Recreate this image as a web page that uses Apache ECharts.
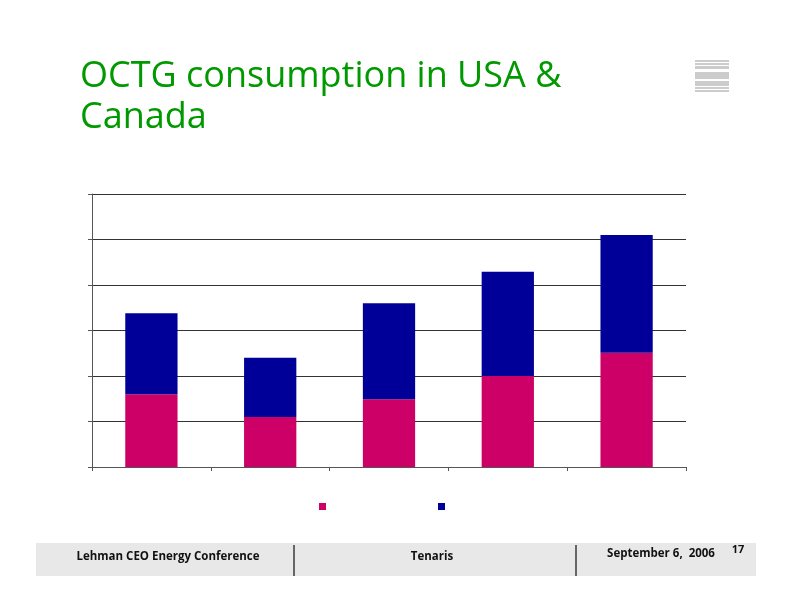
<!DOCTYPE html>
<html><head><meta charset="utf-8">
<script src="https://cdn.jsdelivr.net/npm/echarts@6/dist/echarts.min.js"></script>
<style>html,body{margin:0;padding:0;background:#fff}#c{width:792px;height:612px}</style>
</head><body><div id="c"></div>
<script>
const categories = ['1', '2', '3', '4', '5'];
const seriesNames = ['USA', 'Canada'];
const seriesA = [1.60, 1.10, 1.49, 2.00, 2.51];
const seriesB = [1.78, 1.30, 2.11, 2.29, 2.59];
const yTicks = [0, 1, 2, 3, 4, 5, 6];

const chart = echarts.init(document.getElementById('c'), null, {renderer: 'canvas'});
const FONT = '"Open Sans", "DejaVu Sans", sans-serif';
const stripes = [[60,2],[63,2],[66,3],[72,7],[81,5],[87,2],[90,2]];
chart.setOption({
  animation: false,
  backgroundColor: '#fff',
  title: {
    text: 'OCTG consumption in USA &\nCanada',
    left: 80, top: 56, padding: 0,
    textStyle: {color: '#009900', fontSize: 36, fontWeight: 'normal', fontFamily: FONT, lineHeight: 41}
  },
  legend: {
    left: 314, top: 498,
    itemWidth: 7, itemHeight: 7, itemGap: 112,
    icon: 'rect',
    formatter: () => '',
    textStyle: {fontSize: 1},
    data: seriesNames
  },
  grid: {left: 92, right: 106, top: 194, bottom: 145, containLabel: false},
  xAxis: {
    type: 'category', data: categories,
    axisLine: {lineStyle: {color: '#555', width: 1}},
    axisTick: {show: true, length: 4, lineStyle: {color: '#555'}},
    axisLabel: {show: false}
  },
  yAxis: {
    type: 'value', min: yTicks[0], max: yTicks[yTicks.length - 1], interval: 1,
    axisLine: {show: true, lineStyle: {color: '#555'}},
    axisTick: {show: true, length: 4, inside: false, lineStyle: {color: '#555'}},
    axisLabel: {show: false},
    splitLine: {lineStyle: {color: '#333', width: 1}}
  },
  series: [
    {name: seriesNames[0], type: 'bar', stack: 's', data: seriesA, barWidth: '44%', itemStyle: {color: '#CC0066'}},
    {name: seriesNames[1], type: 'bar', stack: 's', data: seriesB, barWidth: '44%', itemStyle: {color: '#000099'}}
  ],
  graphic: [
    {type: 'rect', shape: {x: 36, y: 543, width: 720, height: 33}, style: {fill: '#e8e8e8'}, z: -1},
    {type: 'rect', shape: {x: 293, y: 545, width: 2, height: 31}, style: {fill: '#666'}},
    {type: 'rect', shape: {x: 575, y: 545, width: 2, height: 31}, style: {fill: '#666'}},
    {type: 'text', x: 168, y: 557, style: {text: 'Lehman CEO Energy Conference', fill: '#111', font: 'bold 11.5px ' + FONT, textAlign: 'center', textVerticalAlign: 'middle'}},
    {type: 'text', x: 432, y: 557, style: {text: 'Tenaris', fill: '#111', font: 'bold 11.5px ' + FONT, textAlign: 'center', textVerticalAlign: 'middle'}},
    {type: 'text', x: 661, y: 554, style: {text: 'September 6,  2006', fill: '#111', font: 'bold 11.5px ' + FONT, textAlign: 'center', textVerticalAlign: 'middle'}},
    {type: 'text', x: 738, y: 550, style: {text: '17', fill: '#111', font: 'bold 11px ' + FONT, textAlign: 'center', textVerticalAlign: 'middle'}}
  ].concat(stripes.map(s => ({type: 'rect', shape: {x: 695, y: s[0], width: 34, height: s[1]}, style: {fill: '#cccccc'}})))
});
</script></body></html>
